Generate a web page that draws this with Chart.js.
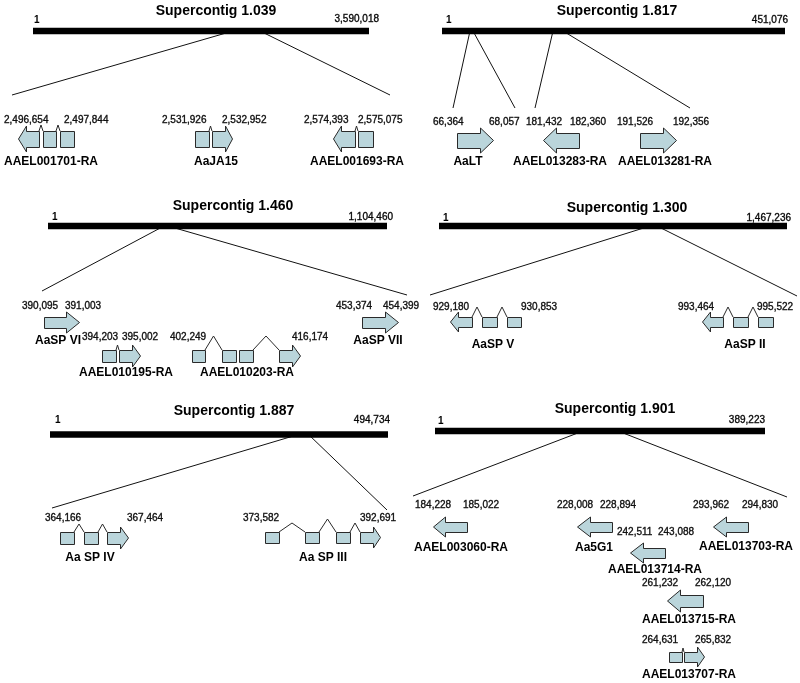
<!DOCTYPE html>
<html><head><meta charset="utf-8">
<script src="https://cdn.jsdelivr.net/npm/chart.js@4.4.1/dist/chart.umd.min.js"></script>
<style>html,body{margin:0;padding:0;background:#fff;}#wrap{width:800px;height:683px;}</style>
</head><body><div id="wrap"><canvas id="c" width="800" height="683"></canvas></div>
<script>
// ---------- DATA ----------
const contigNames = ['Supercontig 1.039','Supercontig 1.817','Supercontig 1.460','Supercontig 1.300','Supercontig 1.887','Supercontig 1.901'];
const contigLengths = [3590018, 451076, 1104460, 1467236, 494734, 389223];

const geneNames = ['AAEL001701-RA','AaJA15','AAEL001693-RA','AaLT','AAEL013283-RA','AAEL013281-RA',
  'AaSP VI','AAEL010195-RA','AAEL010203-RA','AaSP VII','AaSP V','AaSP II','Aa SP IV','Aa SP III',
  'AAEL003060-RA','Aa5G1','AAEL013714-RA','AAEL013703-RA','AAEL013715-RA','AAEL013707-RA'];
const geneContig = [0,0,0,1,1,1,2,2,2,2,3,3,4,4,5,5,5,5,5,5];
const geneStarts = [2496654,2531926,2574393,66364,181432,191526,390095,394203,402249,453374,929180,993464,364166,373582,184228,228008,242511,293962,261232,264631];
const geneEnds   = [2497844,2532952,2575075,68057,182360,192356,391003,395002,416174,454399,930853,995522,367464,392691,185022,228894,243088,294830,262120,265832];
const geneStrand = [-1,1,-1,1,-1,1,1,1,1,1,-1,-1,1,1,-1,-1,-1,-1,-1,1];
const geneExonCount = [3,2,2,1,1,1,1,2,4,1,3,3,3,4,1,1,1,1,1,2];

// ---------- LAYOUT (diagram space 0..800 x 0..683) ----------
const panelBar = [[33,369,31],[442,785,31],[48,387,226],[439,787,226],[50,388,434.5],[435,765,431]];
const panelTitle = [[216,11],[617,11],[233,206],[627,208],[234,411],[615,409]];
const panelStartLbl = [[34,20],[446,20],[52,217],[443,218],[55,420],[438,421]];
const panelEndLbl = [[379,19],[788,20],[393,217],[791,218],[390,420],[765,420]];
const connectors = [
  [233,31,12,95],[260,31,390,95],
  [470,31,453,108],[473,31,515,108],[553,31,535,108],[563,31,690,108],
  [164,226,42,291],[168,226,407,295],
  [650,226,430,295],[657,226,797,296],
  [300,434,52,508],[308,434,387,510],
  [583,431,413,496],[618,431,787,497]
];
const geneExonX = [
  [[18,39],[43,56],[60,74]], [[195,209],[212,232]], [[333,355],[358,373]],
  [[457,493]], [[543,579]], [[640,676]],
  [[44,79]], [[102,116],[119,140]], [[192,205],[222,236],[239,253],[279,300]], [[362,398]],
  [[450,472],[482,497],[507,521]], [[702,723],[733,748],[758,773]],
  [[60,74],[84,98],[107,128]], [[265,279],[305,319],[336,350],[360,380]],
  [[433,467]], [[577,612]], [[630,665]], [[713,748]], [[667,703]], [[669,682],[684,704]]
];
const geneHats = [[6,6],[5],[5],[],[],[],[],[5],[14,0,14],[],[10,10],[10,10],[8,8],[9,13,9],[],[],[],[],[],[4]];
const geneBodyY = [[131,147],[131,147],[131,147],[133,148],[133,148],[133,148],
  [317,328],[350,362],[350,362],[317,328],[317,327],[317,327],[532,544],[532,543],
  [522,532],[522,532],[548,558],[522,532],[595,607],[652,662]];
const geneStartLbl = [[4,120],[162,120],[304,120],[433,122],[526,122],[617,122],
  [22,306],[82,337],[170,337],[336,306],[433,307],[678,307],[45,518],[243,518],
  [415,505],[557,505],[617,532],[693,505],[642,583],[642,640]];
const geneEndLbl = [[64,120],[222,120],[358,120],[489,122],[570,122],[673,122],
  [65,306],[122,337],[292,337],[383,306],[521,307],[757,307],[127,518],[360,518],
  [463,505],[600,505],[658,532],[742,505],[695,583],[695,640]];
const geneNamePos = [[51,162],[216,162],[357,162],[468,162],[560,162],[665,162],
  [58,341],[126,373],[247,373],[378,341],[493,345],[745,345],[90,558],[323,558],
  [461,548],[594,548],[655,570],[746,547],[689,620],[689,675]];

const FONT = '"Liberation Sans", Arial, Helvetica, sans-serif';
const FILL = '#bad5db';
const STROKE = '#2a2a2a';
const fmt = v => v.toLocaleString('en-US');

// ---------- DATASETS ----------
const datasets = [];
connectors.forEach(c => datasets.push({
  type:'line', data:[{x:c[0],y:c[1]},{x:c[2],y:c[3]}], borderColor:'#111', borderWidth:1,
  pointRadius:0, showLine:true, fill:false, tension:0, order:2
}));
contigLengths.forEach((len, i) => {
  const b = panelBar[i];
  datasets.push({
    type:'line', label:contigNames[i], data:[{x:b[0],y:b[2]},{x:b[1],y:b[2]}],
    borderColor:'#000', borderWidth:6.5, borderCapStyle:'butt', pointRadius:0, showLine:true, fill:false, order:1
  });
});

function numText(ctx, s, x, y){
  ctx.fillText(s, x, y);
  ctx.lineWidth = 0.35; ctx.strokeStyle = '#111';
  ctx.strokeText(s, x, y);
}

const genePlugin = {
  id:'genes',
  afterDatasetsDraw(chart){
    const ctx = chart.ctx, xs = chart.scales.x, ys = chart.scales.y;
    const X = v => xs.getPixelForValue(v), Y = v => ys.getPixelForValue(v);
    ctx.save();
    ctx.fillStyle = '#000';
    contigNames.forEach((n,i) => {
      ctx.font = 'bold 14px ' + FONT; ctx.textAlign='center'; ctx.textBaseline='middle';
      ctx.fillText(n, X(panelTitle[i][0]), Y(panelTitle[i][1]));
      ctx.font = 'bold 10px ' + FONT; ctx.textAlign='left';
      ctx.fillText('1', X(panelStartLbl[i][0]), Y(panelStartLbl[i][1]));
      ctx.font = '10px ' + FONT; ctx.textAlign='right';
      numText(ctx, fmt(contigLengths[i]), X(panelEndLbl[i][0]), Y(panelEndLbl[i][1]));
    });
    geneNames.forEach((name, g) => {
      const ex = geneExonX[g].slice(0, geneExonCount[g]);
      const top = Y(geneBodyY[g][0]), bot = Y(geneBodyY[g][1]), mid = (top+bot)/2;
      const strand = geneStrand[g];
      ctx.lineWidth = 1; ctx.strokeStyle = STROKE; ctx.fillStyle = FILL; ctx.lineJoin='miter';
      for (let k=0;k<ex.length-1;k++){
        const h = geneHats[g][k] || 0;
        if (!h) continue;
        const a = X(ex[k][1]), b = X(ex[k+1][0]);
        ctx.beginPath(); ctx.moveTo(a, top); ctx.lineTo((a+b)/2, top - h); ctx.lineTo(b, top); ctx.stroke();
      }
      ex.forEach((e, k) => {
        const x0 = X(e[0]), x1 = X(e[1]);
        const isArrow = (strand > 0 && k === ex.length-1) || (strand < 0 && k === 0);
        ctx.beginPath();
        if (!isArrow){
          ctx.rect(x0+0.5, top+0.5, x1-x0, bot-top);
        } else {
          const head = Math.min(13, Math.round((x1-x0)*0.36)), ext = 5;
          if (strand > 0){
            const hb = x1-head;
            ctx.moveTo(x0+0.5, top+0.5); ctx.lineTo(hb+0.5, top+0.5); ctx.lineTo(hb+0.5, top-ext);
            ctx.lineTo(x1+0.5, mid); ctx.lineTo(hb+0.5, bot+ext); ctx.lineTo(hb+0.5, bot+0.5);
            ctx.lineTo(x0+0.5, bot+0.5); ctx.closePath();
          } else {
            const hb = x0+head;
            ctx.moveTo(x1+0.5, top+0.5); ctx.lineTo(hb+0.5, top+0.5); ctx.lineTo(hb+0.5, top-ext);
            ctx.lineTo(x0+0.5, mid); ctx.lineTo(hb+0.5, bot+ext); ctx.lineTo(hb+0.5, bot+0.5);
            ctx.lineTo(x1+0.5, bot+0.5); ctx.closePath();
          }
        }
        ctx.fill(); ctx.stroke();
      });
      ctx.fillStyle = '#111'; ctx.textBaseline='middle';
      ctx.font = '10px ' + FONT; ctx.textAlign='left';
      numText(ctx, fmt(geneStarts[g]), X(geneStartLbl[g][0]), Y(geneStartLbl[g][1]));
      numText(ctx, fmt(geneEnds[g]), X(geneEndLbl[g][0]), Y(geneEndLbl[g][1]));
      ctx.font = 'bold 12px ' + FONT; ctx.textAlign='center'; ctx.fillStyle='#000';
      ctx.fillText(name, X(geneNamePos[g][0]), Y(geneNamePos[g][1]));
    });
    ctx.restore();
  }
};

new Chart(document.getElementById('c'), {
  type:'scatter',
  data:{ datasets },
  options:{
    responsive:false, animation:false, devicePixelRatio:1,
    layout:{ padding:0 },
    scales:{
      x:{ type:'linear', min:0, max:800, display:false },
      y:{ type:'linear', min:0, max:683, reverse:true, display:false }
    },
    plugins:{ legend:{display:false}, tooltip:{enabled:false}, title:{display:false} },
    events:[]
  },
  plugins:[genePlugin]
});
</script></body></html>
